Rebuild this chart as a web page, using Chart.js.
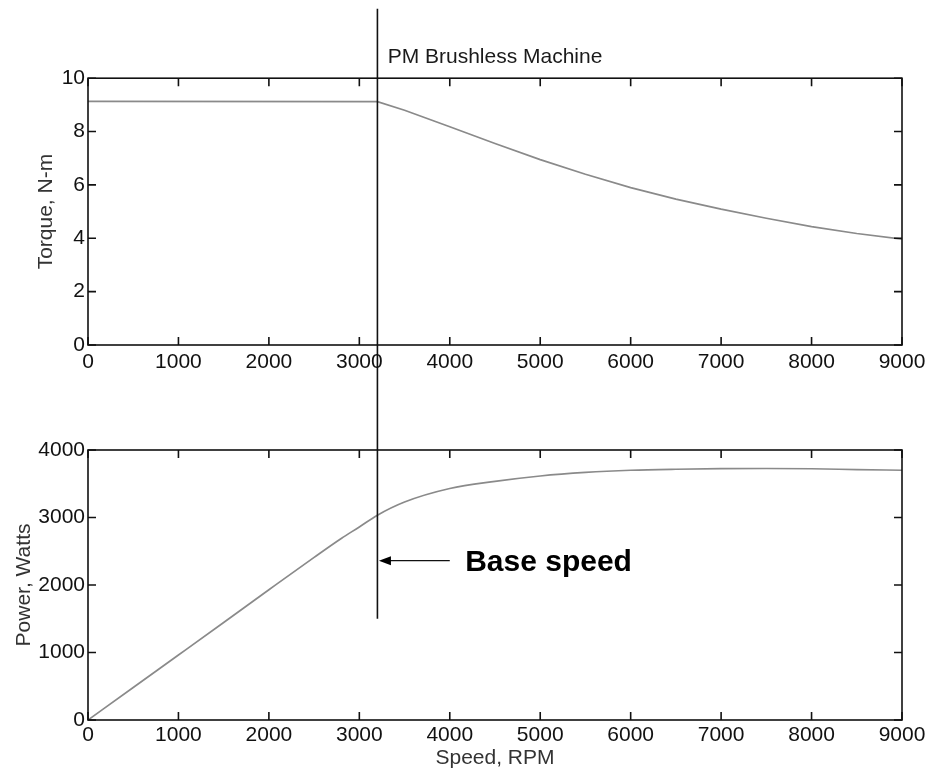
<!DOCTYPE html>
<html>
<head>
<meta charset="utf-8">
<script src="https://cdn.jsdelivr.net/npm/chart.js@4.4.1/dist/chart.umd.min.js"></script>
<style>
  html, body { margin: 0; padding: 0; background: #fff; }
  #wrap { position: relative; width: 931px; height: 775px; }
  #wrap canvas { position: absolute; left: 0; top: 0; }
</style>
</head>
<body>
<div id="wrap">
  <canvas id="torque_chart" width="931" height="775"></canvas>
  <canvas id="power_chart" width="931" height="775"></canvas>
</div>
<script>

// speed / torque curve (top plot)
var torqueSpeed = [0, 3200, 3500, 4000, 4500, 5000, 5500, 6000, 6500, 7000, 7500, 8000, 8500, 9000];
var torqueNm    = [9.13, 9.12, 8.80, 8.18, 7.55, 6.95, 6.40, 5.90, 5.47, 5.09, 4.75, 4.44, 4.18, 3.97];

// speed / power curve (bottom plot)
var powerSpeed = [0, 500, 1000, 1500, 2000, 2500, 2800, 3000, 3200, 3500, 4000, 4500, 5000, 5500, 6000, 6500, 7000, 7500, 8000, 8500, 9000];
var powerW     = [0, 482, 963, 1445, 1930, 2410, 2690, 2860, 3035, 3230, 3430, 3535, 3615, 3668, 3700, 3715, 3723, 3726, 3722, 3710, 3700];

// tick labels
var speedTicks  = [0, 1000, 2000, 3000, 4000, 5000, 6000, 7000, 8000, 9000];
var torqueTicks = [0, 2, 4, 6, 8, 10];
var powerTicks  = [0, 1000, 2000, 3000, 4000];

// base speed marker
var baseSpeed      = 3200;
var lineTopTorque  = 12.6;   // where the marker starts, in torque units (above top plot)
var lineEndPower   = 1500;   // where it stops, in power units
var arrowPower     = 2360;
var arrowTailSpeed = 4000;
var baseLabelSpeed = 4170;

var FONT = '"Liberation Sans", Arial, Helvetica, sans-serif';

function toPoints(xs, ys) {
    var out = [];
    for (var i = 0; i < xs.length; i++) {
        out.push({ x: xs[i], y: ys[i] });
    }
    return out;
}

function fixedTicks(list) {
    return function(scale) {
        scale.ticks = list.map(function(v) { return { value: v }; });
    };
}

function fitSize(prop, size) {
    return function(scale) {
        scale[prop] = size;
        scale.paddingLeft = 0;
        scale.paddingRight = 0;
        scale.paddingTop = 0;
        scale.paddingBottom = 0;
    };
}

// box round the plot with inward ticks on all four sides
var framePlugin = {
    id: 'frame',
    afterDraw: function(chart) {
        var ctx = chart.ctx;
        var a = chart.chartArea;
        var xs = chart.scales.x;
        var ys = chart.scales.y;
        var tl = 8;
        ctx.save();
        ctx.strokeStyle = '#111';
        ctx.lineWidth = 1.6;
        ctx.strokeRect(a.left, a.top, a.right - a.left, a.bottom - a.top);
        ctx.beginPath();
        xs.ticks.forEach(function(t) {
            var px = xs.getPixelForValue(t.value);
            ctx.moveTo(px, a.bottom); ctx.lineTo(px, a.bottom - tl);
            ctx.moveTo(px, a.top);    ctx.lineTo(px, a.top + tl);
        });
        ys.ticks.forEach(function(t) {
            var py = ys.getPixelForValue(t.value);
            ctx.moveTo(a.left, py);  ctx.lineTo(a.left + tl, py);
            ctx.moveTo(a.right, py); ctx.lineTo(a.right - tl, py);
        });
        ctx.stroke();
        ctx.restore();
    }
};

function makeOptions(opts) {
    return {
        responsive: false,
        animation: false,
        devicePixelRatio: 1,
        events: [],
        layout: { padding: opts.padding },
        plugins: {
            legend: { display: false },
            tooltip: { enabled: false },
            title: opts.title
        },
        scales: {
            x: {
                type: 'linear',
                min: 0,
                max: 9000,
                afterBuildTicks: fixedTicks(speedTicks),
                afterFit: fitSize('height', opts.xHeight),
                grid: { display: false, drawTicks: false },
                border: { display: false },
                ticks: {
                    padding: opts.xTickPad,
                    maxRotation: 0,
                    autoSkip: false,
                    color: '#111',
                    font: { family: FONT, size: 21 },
                    callback: function(v) { return String(v); }
                },
                title: opts.xTitle
            },
            y: {
                type: 'linear',
                min: opts.yMin,
                max: opts.yMax,
                afterBuildTicks: fixedTicks(opts.yTicks),
                afterFit: fitSize('width', 88),
                grid: { display: false, drawTicks: false },
                border: { display: false },
                ticks: {
                    padding: 3,
                    autoSkip: false,
                    color: '#111',
                    font: { family: FONT, size: 21 },
                    callback: function(v) { return String(v); }
                },
                title: {
                    display: true,
                    text: opts.yTitle,
                    color: '#333',
                    font: { family: FONT, size: 21 },
                    padding: { top: opts.yTitlePad, bottom: 0 }
                }
            }
        }
    };
}

var curveStyle = {
    borderColor: '#8a8a8a',
    borderWidth: 1.7,
    pointRadius: 0,
    fill: false
};

var torqueChart = new Chart(document.getElementById('torque_chart'), {
    type: 'line',
    data: {
        datasets: [Object.assign({
            label: 'Torque',
            data: toPoints(torqueSpeed, torqueNm),
            tension: 0
        }, curveStyle)]
    },
    options: makeOptions({
        padding: { left: 0, right: 29, top: 0, bottom: 0 },
        title: {
            display: true,
            text: 'PM Brushless Machine',
            fullSize: false,
            color: '#1a1a1a',
            font: { family: FONT, size: 21, weight: 'normal' },
            padding: { top: 45, bottom: 8 }
        },
        xHeight: 430,
        xTickPad: 5,
        xTitle: { display: false },
        yMin: 0, yMax: 10, yTicks: torqueTicks,
        yTitle: 'Torque, N-m', yTitlePad: 34
    }),
    plugins: [framePlugin]
});

// vertical base speed line, arrow and label
var baseSpeedPlugin = {
    id: 'baseSpeed',
    afterDraw: function(chart) {
        var ctx = chart.ctx;
        var xs = chart.scales.x;
        var ys = chart.scales.y;
        var px = xs.getPixelForValue(baseSpeed);
        var yTop = torqueChart.scales.y.getPixelForValue(lineTopTorque);
        var yEnd = ys.getPixelForValue(lineEndPower);
        ctx.save();
        ctx.strokeStyle = '#111';
        ctx.lineWidth = 1.6;
        ctx.beginPath();
        ctx.moveTo(px, yTop);
        ctx.lineTo(px, yEnd);
        ctx.stroke();

        var ay = ys.getPixelForValue(arrowPower);
        var tip = px + 1.5;
        var tail = xs.getPixelForValue(arrowTailSpeed);
        ctx.lineWidth = 1.3;
        ctx.beginPath();
        ctx.moveTo(tip + 8, ay);
        ctx.lineTo(tail, ay);
        ctx.stroke();
        ctx.fillStyle = '#000';
        ctx.beginPath();
        ctx.moveTo(tip, ay);
        ctx.lineTo(tip + 12, ay - 4.5);
        ctx.lineTo(tip + 12, ay + 4.5);
        ctx.closePath();
        ctx.fill();

        ctx.font = 'bold 30px ' + FONT;
        ctx.textAlign = 'left';
        ctx.textBaseline = 'middle';
        ctx.fillText('Base speed', xs.getPixelForValue(baseLabelSpeed), ay + 2);
        ctx.restore();
    }
};

var powerChart = new Chart(document.getElementById('power_chart'), {
    type: 'line',
    data: {
        datasets: [Object.assign({
            label: 'Power',
            data: toPoints(powerSpeed, powerW),
            cubicInterpolationMode: 'monotone'
        }, curveStyle)]
    },
    options: makeOptions({
        padding: { left: 0, right: 29, top: 450, bottom: 0 },
        title: { display: false },
        xHeight: 55,
        xTickPad: 3,
        xTitle: {
            display: true,
            text: 'Speed, RPM',
            color: '#333',
            font: { family: FONT, size: 21 },
            padding: { top: 0, bottom: 4 }
        },
        yMin: 0, yMax: 4000, yTicks: powerTicks,
        yTitle: 'Power, Watts', yTitlePad: 12
    }),
    plugins: [framePlugin, baseSpeedPlugin]
});

</script>
</body>
</html>
